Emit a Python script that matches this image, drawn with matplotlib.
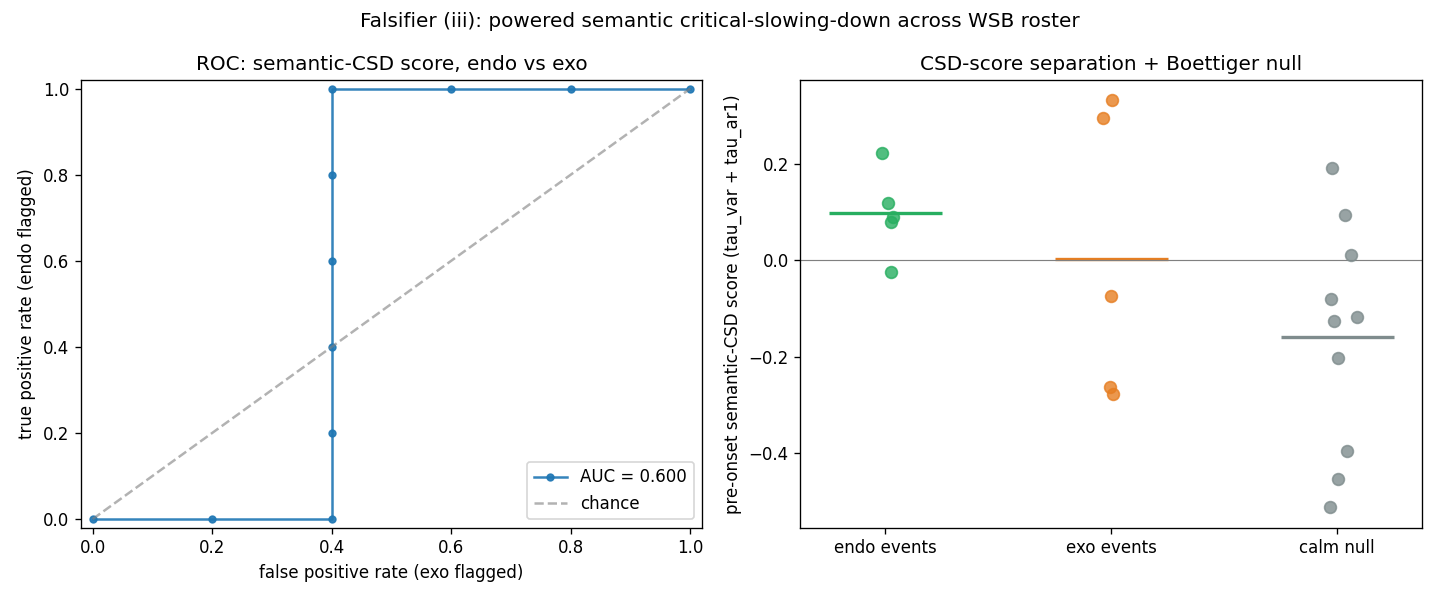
import numpy as np
import matplotlib.pyplot as plt

# ROC curve points
fpr = [0.0, 0.2, 0.4, 0.4, 0.4, 0.4, 0.4, 0.4, 0.6, 0.8, 1.0]
tpr = [0.0, 0.0, 0.0, 0.2, 0.4, 0.6, 0.8, 1.0, 1.0, 1.0, 1.0]
auc = 0.600

# CSD scores per group (with jitter offsets as drawn)
groups = ["endo events", "exo events", "calm null"]
endo_scores = [0.222, 0.120, 0.091, 0.079, -0.023]
endo_jitter = [-0.013, 0.013, 0.036, 0.027, 0.027]
exo_scores = [0.332, 0.296, -0.073, -0.263, -0.278]
exo_jitter = [0.004, -0.036, 0.0, -0.004, 0.009]
calm_scores = [0.191, 0.095, 0.012, -0.079, -0.126, -0.118, -0.203, -0.396, -0.454, -0.512]
calm_jitter = [-0.022, 0.036, 0.062, -0.027, -0.013, 0.089, 0.004, 0.044, 0.004, -0.031]
colors = ["#27ae60", "#e67e22", "#7f8c8d"]

fig, (ax1, ax2) = plt.subplots(1, 2, figsize=(12, 5), dpi=120)

ax1.plot(fpr, tpr, marker="o", markersize=4, alpha=0.9, label=f"AUC = {auc:.3f}")
ax1.plot([0, 1], [0, 1], "--", color="gray", alpha=0.6, label="chance")
ax1.margins(0.02)
ax1.set_xlabel("false positive rate (exo flagged)")
ax1.set_ylabel("true positive rate (endo flagged)")
ax1.set_title("ROC: semantic-CSD score, endo vs exo")
ax1.legend(loc="lower right")

all_scores = [endo_scores, exo_scores, calm_scores]
all_jitter = [endo_jitter, exo_jitter, calm_jitter]
for i, (sc, jt, c) in enumerate(zip(all_scores, all_jitter, colors)):
    ax2.scatter(np.array(jt) + i, sc, s=50, color=c, alpha=0.8, zorder=3)
    ax2.hlines(np.mean(sc), i - 0.25, i + 0.25, color=c, lw=2, zorder=2)
ax2.axhline(0, color="gray", lw=0.7)
ax2.set_xticks(range(len(groups)))
ax2.set_xticklabels(groups)
ax2.set_ylabel("pre-onset semantic-CSD score (tau_var + tau_ar1)")
ax2.set_title("CSD-score separation + Boettiger null")

fig.suptitle("Falsifier (iii): powered semantic critical-slowing-down across WSB roster")
fig.tight_layout()
fig.savefig("out.png")
